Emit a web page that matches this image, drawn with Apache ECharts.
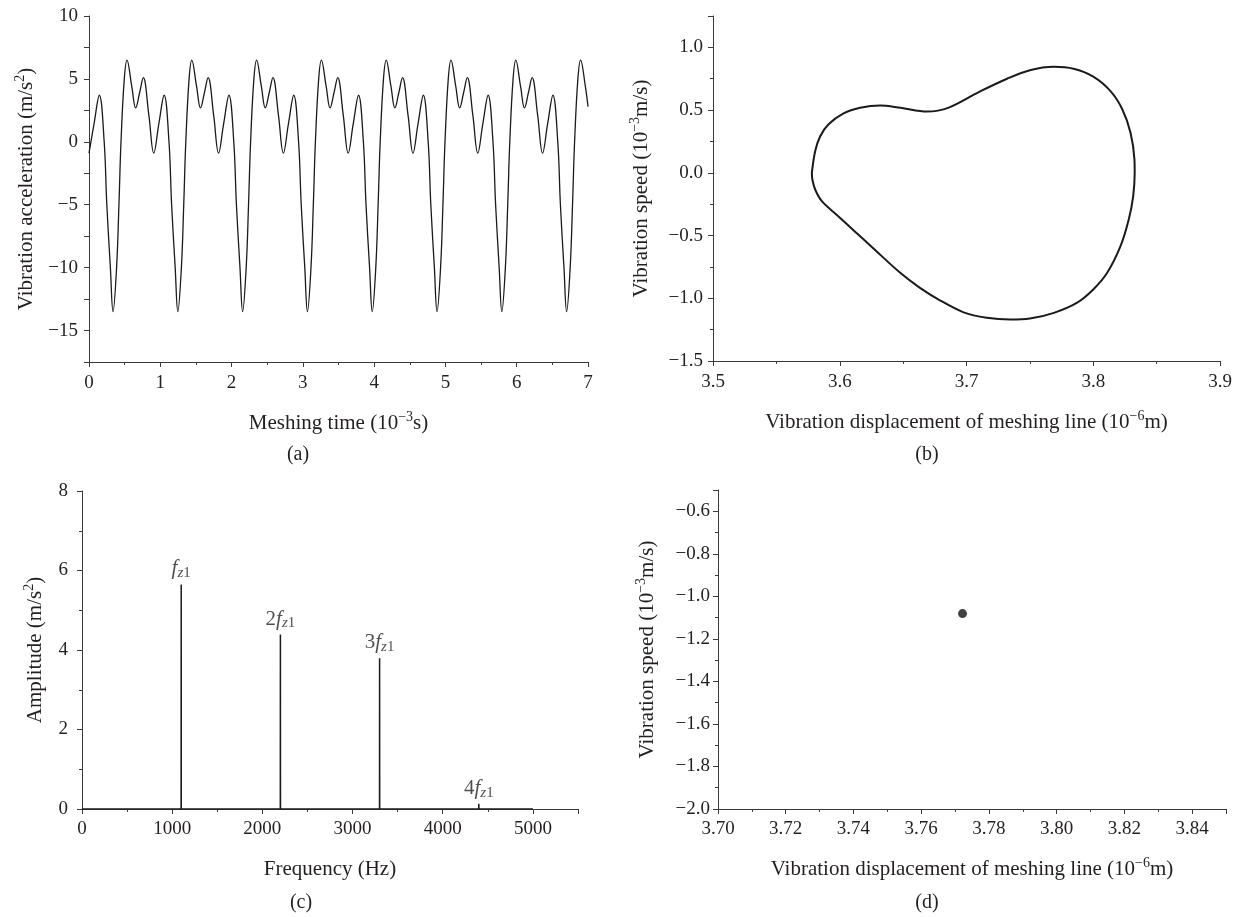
<!DOCTYPE html>
<html>
<head>
<meta charset="utf-8">
<script src="https://cdn.jsdelivr.net/npm/echarts@6/dist/echarts.min.js"></script>
<style>
html,body{margin:0;padding:0;background:#fff;}
#chart{width:1244px;height:917px;}
</style>
</head>
<body>
<div id="chart"></div>
<script>
// ---------- (a) time history: meshing time (1e-3 s) vs vibration acceleration (m/s^2)
const timeMs = [
  0.000, 0.070, 0.145, 0.213, 0.250, 0.300, 0.337, 0.387, 0.420, 0.449, 0.495, 0.533, 0.600, 0.655, 0.710, 0.762, 0.840,
  0.909, 0.979, 1.054, 1.122, 1.159, 1.209, 1.246, 1.296, 1.329, 1.358, 1.404, 1.442, 1.509, 1.564, 1.619, 1.671, 1.749,
  1.818, 1.888, 1.963, 2.031, 2.068, 2.118, 2.155, 2.205, 2.238, 2.267, 2.313, 2.351, 2.418, 2.473, 2.528, 2.580, 2.658,
  2.727, 2.797, 2.872, 2.940, 2.977, 3.027, 3.064, 3.114, 3.147, 3.176, 3.222, 3.260, 3.327, 3.382, 3.437, 3.489, 3.567,
  3.636, 3.706, 3.781, 3.849, 3.886, 3.936, 3.973, 4.023, 4.056, 4.085, 4.131, 4.169, 4.236, 4.291, 4.346, 4.398, 4.476,
  4.545, 4.615, 4.690, 4.758, 4.795, 4.845, 4.882, 4.932, 4.965, 4.994, 5.040, 5.078, 5.145, 5.200, 5.255, 5.307, 5.385,
  5.454, 5.524, 5.599, 5.667, 5.704, 5.754, 5.791, 5.841, 5.874, 5.903, 5.949, 5.987, 6.054, 6.109, 6.164, 6.216, 6.294,
  6.363, 6.433, 6.508, 6.576, 6.613, 6.663, 6.700, 6.750, 6.783, 6.812, 6.858, 6.896, 6.963, 7.000
];
const accel = [
  -0.9, 1.4, 3.7, 0.0, -5.0, -10.0, -13.5, -10.0, -5.0, 0.0, 5.0, 6.5, 4.4, 2.7, 3.9, 5.1, 2.1,
  -0.9, 1.4, 3.7, 0.0, -5.0, -10.0, -13.5, -10.0, -5.0, 0.0, 5.0, 6.5, 4.4, 2.7, 3.9, 5.1, 2.1,
  -0.9, 1.4, 3.7, 0.0, -5.0, -10.0, -13.5, -10.0, -5.0, 0.0, 5.0, 6.5, 4.4, 2.7, 3.9, 5.1, 2.1,
  -0.9, 1.4, 3.7, 0.0, -5.0, -10.0, -13.5, -10.0, -5.0, 0.0, 5.0, 6.5, 4.4, 2.7, 3.9, 5.1, 2.1,
  -0.9, 1.4, 3.7, 0.0, -5.0, -10.0, -13.5, -10.0, -5.0, 0.0, 5.0, 6.5, 4.4, 2.7, 3.9, 5.1, 2.1,
  -0.9, 1.4, 3.7, 0.0, -5.0, -10.0, -13.5, -10.0, -5.0, 0.0, 5.0, 6.5, 4.4, 2.7, 3.9, 5.1, 2.1,
  -0.9, 1.4, 3.7, 0.0, -5.0, -10.0, -13.5, -10.0, -5.0, 0.0, 5.0, 6.5, 4.4, 2.7, 3.9, 5.1, 2.1,
  -0.9, 1.4, 3.7, 0.0, -5.0, -10.0, -13.5, -10.0, -5.0, 0.0, 5.0, 6.5, 4.4, 2.8
];

// ---------- (b) phase portrait: displacement (1e-6 m) vs speed (1e-3 m/s), clockwise from leftmost point
const phaseDisp = [
  3.5780, 3.5806, 3.5845, 3.5910, 3.6030, 3.6160, 3.6320, 3.6480, 3.6690, 3.6860, 3.7100, 3.7320,
  3.7500, 3.7690, 3.7845, 3.8000, 3.8136, 3.8230, 3.8294, 3.8325, 3.8327, 3.8315, 3.8280, 3.8215,
  3.8110, 3.8000, 3.7870, 3.7690, 3.7500, 3.7346, 3.7160, 3.6977, 3.6780, 3.6630, 3.6477, 3.6266,
  3.6108, 3.5977, 3.5859, 3.5806, 3.5784, 3.5780
];
const phaseSpeed = [
  0.000, 0.172, 0.290, 0.385, 0.473, 0.518, 0.537, 0.518, 0.488, 0.520, 0.645, 0.750,
  0.818, 0.845, 0.829, 0.766, 0.651, 0.505, 0.319, 0.106, 0.000, -0.187, -0.372, -0.585,
  -0.797, -0.930, -1.037, -1.116, -1.162, -1.170, -1.156, -1.112, -1.010, -0.915, -0.797, -0.603,
  -0.457, -0.336, -0.226, -0.133, -0.053, 0.000
];

// ---------- (c) spectrum: frequency (Hz) vs amplitude (m/s^2)
const freqHz    = [0, 1099, 1100, 1101, 2199, 2200, 2201, 3299, 3300, 3301, 4399, 4400, 4401, 5000];
const amplitude = [0, 0, 5.65, 0, 0, 4.39, 0, 0, 3.79, 0, 0, 0.13, 0, 0];
const harmonicFreq   = [1100, 2200, 3300, 4400];
const harmonicAmp    = [5.65, 4.39, 3.79, 0.13];
const harmonicPrefix = ['', '2', '3', '4'];

// ---------- (d) Poincaré map: single point
const poincareDisp  = [3.7722];
const poincareSpeed = [-1.081];

// ---------- tick settings
const axisA = { xMin: 0, xMax: 7, xStep: 1, yMin: -17.5, yMax: 10, yStep: 2.5, yLabelStep: 5 };
const axisB = { xMin: 3.5, xMax: 3.9, xStep: 0.1, yMin: -1.5, yMax: 1.25, yStep: 0.5 };
const axisC = { xMin: 0, xMax: 5500, xStep: 1000, yMin: 0, yMax: 8, yStep: 2 };
const axisD = { xMin: 3.70, xMax: 3.85, xStep: 0.02, yMin: -2.0, yMax: -0.5, yStep: 0.2 };

const FONT = '"Liberation Serif", "DejaVu Serif", serif';
const TXT = '#231f20';
const AX = '#3a3a3a';
const TICK_FS = 19;
const NAME_FS = 21;

function fmt(v, d) {
  const s = Math.abs(v).toFixed(d);
  return (v < 0 && parseFloat(s) !== 0 ? '\u2212' : '') + s;
}
function onlyMultiples(step, d, lo, hi) {
  return function (v) {
    const r = v / step;
    if (Math.abs(r - Math.round(r)) > 1e-6) return '';
    if (hi !== undefined && v > hi + 1e-9) return '';
    if (lo !== undefined && v < lo - 1e-9) return '';
    return fmt(v, d);
  };
}
const supRich = {
  sup: { fontFamily: FONT, fontSize: 14, lineHeight: 14, verticalAlign: 'top', color: TXT }
};
function nameStyle() {
  return { fontFamily: FONT, fontSize: NAME_FS, color: TXT, lineHeight: 26, rich: supRich };
}
function labelStyle(margin, formatter) {
  return { fontFamily: FONT, fontSize: TICK_FS, color: TXT, margin: margin, formatter: formatter,
           showMinLabel: true, showMaxLabel: true };
}
function baseAxis(extra) {
  return Object.assign({
    type: 'value',
    axisLine: { show: true, onZero: false, lineStyle: { color: AX, width: 1 } },
    axisTick: { show: true, inside: false, length: 5, lineStyle: { color: AX, width: 1 } },
    minorTick: { show: true, splitNumber: 2, length: 3, lineStyle: { color: AX, width: 1 } },
    splitLine: { show: false },
    minorSplitLine: { show: false },
    nameLocation: 'middle',
    nameTextStyle: nameStyle()
  }, extra);
}

const chart = echarts.init(document.getElementById('chart'), null, { renderer: 'canvas' });

const letterStyle = t => ({ text: t, fontFamily: FONT, fontSize: 20, fill: TXT, align: 'center', verticalAlign: 'middle' });

const option = {
  backgroundColor: '#ffffff',
  animation: false,
  grid: [
    { left: 89,  top: 16,  width: 499, height: 346 },
    { left: 713, top: 16,  width: 507, height: 345 },
    { left: 82,  top: 491, width: 496, height: 318 },
    { left: 718, top: 490, width: 508, height: 319 }
  ],
  xAxis: [
    baseAxis({ gridIndex: 0, min: axisA.xMin, max: axisA.xMax, interval: axisA.xStep,
      name: 'Meshing time (10{sup|\u22123}s)', nameGap: 48,
      axisLabel: labelStyle(12, onlyMultiples(1, 0)) }),
    baseAxis({ gridIndex: 1, min: axisB.xMin, max: axisB.xMax, interval: axisB.xStep,
      name: 'Vibration displacement of meshing line (10{sup|\u22126}m)', nameGap: 48,
      axisLabel: labelStyle(12, onlyMultiples(0.1, 1)) }),
    baseAxis({ gridIndex: 2, min: axisC.xMin, max: axisC.xMax, interval: axisC.xStep,
      name: 'Frequency (Hz)', nameGap: 47,
      axisLabel: labelStyle(11, onlyMultiples(1000, 0, 0, 5000)) }),
    baseAxis({ gridIndex: 3, min: axisD.xMin, max: axisD.xMax, interval: axisD.xStep,
      name: 'Vibration displacement of meshing line (10{sup|\u22126}m)', nameGap: 47,
      axisLabel: labelStyle(11, onlyMultiples(0.02, 2, 3.70, 3.84)) })
  ],
  yAxis: [
    baseAxis({ gridIndex: 0, min: axisA.yMin, max: axisA.yMax, interval: axisA.yStep,
      minorTick: { show: false },
      name: 'Vibration acceleration (m/s{sup|2})', nameGap: 50,
      axisLabel: labelStyle(11, onlyMultiples(axisA.yLabelStep, 0)) }),
    baseAxis({ gridIndex: 1, min: axisB.yMin, max: axisB.yMax, interval: axisB.yStep,
      name: 'Vibration speed (10{sup|\u22123}m/s)', nameGap: 59,
      axisLabel: labelStyle(10, onlyMultiples(0.5, 1, -1.5, 1.0)) }),
    baseAxis({ gridIndex: 2, min: axisC.yMin, max: axisC.yMax, interval: axisC.yStep,
      name: 'Amplitude (m/s{sup|2})', nameGap: 34,
      axisLabel: labelStyle(14, onlyMultiples(2, 0)) }),
    baseAxis({ gridIndex: 3, min: axisD.yMin, max: axisD.yMax, interval: axisD.yStep,
      name: 'Vibration speed (10{sup|\u22123}m/s)', nameGap: 58,
      axisLabel: labelStyle(8, onlyMultiples(0.2, 1, -2.0, -0.6)) })
  ],
  series: [
    {
      type: 'line', xAxisIndex: 0, yAxisIndex: 0,
      data: timeMs.map((t, i) => [t, accel[i]]),
      showSymbol: false, smooth: 0.4, clip: true,
      lineStyle: { color: '#1a1a1a', width: 1.3 }
    },
    {
      type: 'line', xAxisIndex: 1, yAxisIndex: 1,
      data: phaseDisp.map((x, i) => [x, phaseSpeed[i]]),
      showSymbol: false, smooth: 0.35,
      lineStyle: { color: '#1a1a1a', width: 2 }
    },
    {
      type: 'line', xAxisIndex: 2, yAxisIndex: 2,
      data: freqHz.map((f, i) => [f, amplitude[i]]),
      showSymbol: false, smooth: false,
      lineStyle: { color: '#1a1a1a', width: 1.5 }
    },
    {
      type: 'scatter', xAxisIndex: 2, yAxisIndex: 2,
      data: harmonicFreq.map((f, i) => [f, harmonicAmp[i]]),
      symbolSize: 1, itemStyle: { color: 'rgba(0,0,0,0)' },
      label: {
        show: true, position: 'top', distance: 3,
        formatter: p => (harmonicPrefix[p.dataIndex] ? '{n|' + harmonicPrefix[p.dataIndex] + '}' : '') + '{f|f}{s|z}{d|1}',
        rich: {
          n: { fontFamily: FONT, fontSize: 21, lineHeight: 24, color: TXT, verticalAlign: 'middle' },
          f: { fontFamily: FONT, fontSize: 21, lineHeight: 24, fontStyle: 'italic', color: TXT, verticalAlign: 'middle' },
          s: { fontFamily: FONT, fontSize: 15, lineHeight: 15, fontStyle: 'italic', color: TXT, verticalAlign: 'bottom' },
          d: { fontFamily: FONT, fontSize: 15, lineHeight: 15, color: TXT, verticalAlign: 'bottom' }
        }
      }
    },
    {
      type: 'scatter', xAxisIndex: 3, yAxisIndex: 3,
      data: poincareDisp.map((x, i) => [x, poincareSpeed[i]]),
      symbol: 'circle', symbolSize: 9,
      itemStyle: { color: '#111111' }
    }
  ],
  graphic: [
    { type: 'text', x: 298, y: 455, style: letterStyle('(a)') },
    { type: 'text', x: 927, y: 455, style: letterStyle('(b)') },
    { type: 'text', x: 301, y: 903, style: letterStyle('(c)') },
    { type: 'text', x: 927, y: 903, style: letterStyle('(d)') }
  ]
};
chart.setOption(option);
</script>
</body>
</html>
